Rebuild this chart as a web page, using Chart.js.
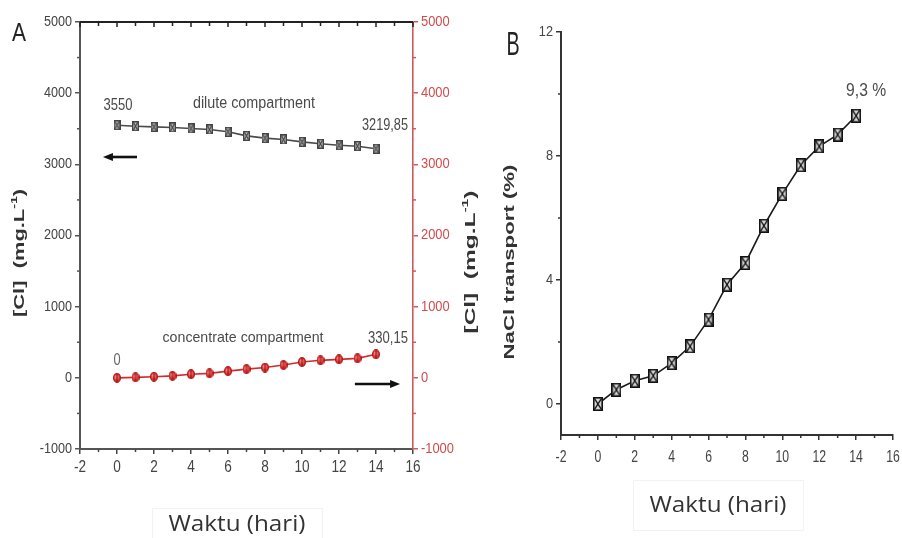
<!DOCTYPE html>
<html><head><meta charset="utf-8">
<script src="https://cdn.jsdelivr.net/npm/chart.js@4.4.1/dist/chart.umd.min.js"></script>
<style>
html,body{margin:0;padding:0;background:#fff;width:902px;height:538px;overflow:hidden}
#wa{position:absolute;left:0;top:0;width:490px;height:538px}
#wb{position:absolute;left:490px;top:0;width:412px;height:538px}
</style></head><body>
<div id="wa"><canvas id="ca"></canvas></div>
<div id="wb"><canvas id="cb"></canvas></div>
<script>
// ---- data ----
const days = [0,1,2,3,4,5,6,7,8,9,10,11,12,13,14];
const diluteCl = [3550,3536,3527,3518,3504,3490,3457,3400,3368,3349,3316,3290,3269,3255,3219.85];
const concentrateCl = [0,7,16,28,51,63,94,122,145,180,222,246,260,274,330.15];
const naclTransport = [0,0.46,0.75,0.91,1.32,1.86,2.72,3.85,4.55,5.75,6.78,7.7,8.31,8.69,9.3];
const xTicks = [-2,0,2,4,6,8,10,12,14,16];
const xMinor = [-1,1,3,5,7,9,11,13,15];
const xTop = [-2,-1,0,1,2,3,4,5,6,7,8,9,10,11,12,13,14,15,16];
const clTicks = [-1000,0,1000,2000,3000,4000,5000];
const clMinor = [-500,500,1500,2500,3500,4500];
const nTicks = [0,4,8,12];
const nMinor = [2,6,10];
const labelDiluteStart = '3550', labelDiluteEnd = '3219,85';
const labelConcStart = '0', labelConcEnd = '330,15';
const labelNaclEnd = '9,3 %';

const SANS = '"Liberation Sans", Arial, sans-serif';
function txt(ctx, s, x, y, o){
  ctx.save();
  ctx.font = (o.bold?'bold ':'') + o.size + 'px ' + (o.family||SANS);
  ctx.fillStyle = o.color||'#4a4a4a';
  ctx.textBaseline = 'middle';
  ctx.textAlign = 'left';
  const w = ctx.measureText(s).width;
  let sx = o.sx||1;
  if (o.width) sx = o.width / w;
  ctx.translate(x,y);
  if (o.rot) ctx.rotate(o.rot);
  ctx.scale(sx,1);
  const ox = o.align==='right' ? -w : (o.align==='left' ? 0 : -w/2);
  ctx.fillText(s, ox, 0);
  ctx.restore();
}
// rotated title with superscript "-1"
function clTitle(ctx, cx, cy, len){
  const parts = [{t:'[Cl]  (mg.L',s:14,dy:0},{t:'-1',s:9,dy:-5},{t:')',s:14,dy:0}];
  ctx.save();
  let w=0;
  parts.forEach(p=>{ctx.font='bold '+p.s+'px '+SANS; p.w=ctx.measureText(p.t).width; w+=p.w;});
  ctx.translate(cx,cy); ctx.rotate(-Math.PI/2); ctx.scale(len/w,1);
  ctx.fillStyle='#333'; ctx.textBaseline='middle';
  let x=-w/2;
  parts.forEach(p=>{ctx.font='bold '+p.s+'px '+SANS; ctx.fillText(p.t,x,p.dy); x+=p.w;});
  ctx.restore();
}
function arrow(ctx, x1, x2, y){
  ctx.save();
  ctx.strokeStyle='#111'; ctx.fillStyle='#111'; ctx.lineWidth=2.6;
  const dir = Math.sign(x2-x1);
  ctx.beginPath(); ctx.moveTo(x1,y); ctx.lineTo(x2-dir*7,y); ctx.stroke();
  ctx.beginPath(); ctx.moveTo(x2,y); ctx.lineTo(x2-dir*10,y-4); ctx.lineTo(x2-dir*10,y+4); ctx.closePath(); ctx.fill();
  ctx.restore();
}
function tick(ctx, x1,y1,x2,y2,color,lw){
  ctx.save(); ctx.strokeStyle=color; ctx.lineWidth=lw||1.5;
  ctx.beginPath(); ctx.moveTo(x1,y1); ctx.lineTo(x2,y2); ctx.stroke(); ctx.restore();
}
function xBox(ctx, x1,y1,x2,y2, label, cx, cy){
  ctx.save(); ctx.strokeStyle='#f2f2f2'; ctx.lineWidth=1;
  ctx.strokeRect(x1+0.5,y1+0.5,x2-x1,y2-y1); ctx.restore();
  txt(ctx,label,cx,cy,{size:21,family:'"Open Sans", sans-serif',width:137,color:'#333'});
}
// ---- point styles ----
function hourglassBox(w,h,stroke,fill,lw){
  const c=document.createElement('canvas'); c.width=w; c.height=h;
  const g=c.getContext('2d');
  g.fillStyle=fill; g.fillRect(0,0,w,h);
  g.strokeStyle=stroke; g.lineWidth=lw;
  g.strokeRect(lw/2,lw/2,w-lw,h-lw);
  g.lineWidth=lw*0.8;
  g.beginPath(); g.moveTo(lw,lw); g.lineTo(w-lw,h-lw); g.moveTo(w-lw,lw); g.lineTo(lw,h-lw); g.stroke();
  return c;
}
function redBall(w,h){
  const c=document.createElement('canvas'); c.width=w; c.height=h;
  const g=c.getContext('2d');
  const gr=g.createRadialGradient(w*0.4,h*0.35,0.5,w/2,h/2,w/2);
  gr.addColorStop(0,'#ff8a8a'); gr.addColorStop(1,'#d01818');
  g.fillStyle=gr;
  g.beginPath(); g.ellipse(w/2,h/2,w/2-0.6,h/2-0.6,0,0,Math.PI*2); g.fill();
  g.strokeStyle='#a81010'; g.lineWidth=1; g.stroke();
  g.strokeStyle='#8a0a0a'; g.lineWidth=1;
  g.beginPath(); g.moveTo(w/2,1.5); g.lineTo(w/2,h-1.5); g.stroke();
  return c;
}
const ptDilute = hourglassBox(7,10,'#444','#c8c8c8',1.4);
const ptConc = redBall(8,10);
const ptNacl = hourglassBox(10,14,'#111','#d8d8d8',1.6);

const tickSet = arr => s => { s.ticks = arr.map(v=>({value:v})); };
const gridOpt = (c)=>({drawOnChartArea:false, drawTicks:true, tickLength:5, color:c, lineWidth:1.5});

// ---- Chart A ----
const decorA = {id:'decorA', afterDraw(chart){
  const ctx=chart.ctx, a=chart.chartArea, sx=chart.scales.x, yl=chart.scales.yL, yr=chart.scales.yR;
  tick(ctx,a.left,a.top,a.right,a.top,'#222',2);
  xTop.forEach(v=>{const p=sx.getPixelForValue(v); tick(ctx,p,a.top,p,a.top+(v%2===0?5:4),'#222',1.5);});
  xMinor.forEach(v=>{const p=sx.getPixelForValue(v); tick(ctx,p,a.bottom,p,a.bottom+3,'#444',1.5);});
  clMinor.forEach(v=>{const p=yl.getPixelForValue(v); tick(ctx,a.left-3,p,a.left,p,'#555',1.5);
                      const q=yr.getPixelForValue(v); tick(ctx,a.right,q,a.right+3,q,'#d05a5a',1.5);});
  clTicks.forEach(v=>{txt(ctx,String(v),a.left-8,yl.getPixelForValue(v),{size:14,sx:0.9,align:'right',color:'#444'});
                      txt(ctx,String(v),a.right+8,yr.getPixelForValue(v),{size:14,sx:0.92,align:'left',color:'#d24b4b'});});
  xTicks.forEach(v=>txt(ctx,String(v),sx.getPixelForValue(v),a.bottom+19,{size:16,sx:0.85,color:'#444'}));
  const d0x=sx.getPixelForValue(days[0]), dNx=sx.getPixelForValue(days[days.length-1]);
  txt(ctx,labelDiluteStart,d0x+1,yl.getPixelForValue(diluteCl[0])-20,{size:17,width:29,color:'#4a4a4a'});
  txt(ctx,labelDiluteEnd,dNx+9,yl.getPixelForValue(diluteCl[diluteCl.length-1])-23,{size:17,width:46,color:'#4a4a4a'});
  txt(ctx,'dilute compartment',sx.getPixelForValue(7.4),yl.getPixelForValue(3860),{size:16,width:122,color:'#4a4a4a'});
  txt(ctx,labelConcStart,d0x,yr.getPixelForValue(concentrateCl[0])-17,{size:16,sx:0.8,color:'#666'});
  txt(ctx,labelConcEnd,dNx+12,yr.getPixelForValue(concentrateCl[concentrateCl.length-1])-16,{size:16,width:40,color:'#4a4a4a'});
  txt(ctx,'concentrate compartment',sx.getPixelForValue(6.81),yr.getPixelForValue(560),{size:15,width:161,color:'#4a4a4a'});
  arrow(ctx,sx.getPixelForValue(1.08),sx.getPixelForValue(-0.76),yl.getPixelForValue(3103));
  arrow(ctx,sx.getPixelForValue(12.86),sx.getPixelForValue(15.3),yr.getPixelForValue(-87));
  clTitle(ctx,20,253,128);
  clTitle(ctx,471,262,143);
  txt(ctx,'A',19,34,{size:25,sx:0.84,color:'#222'});
  xBox(ctx,152,508,322,545,'Waktu (hari)',237,525);
}};

new Chart(document.getElementById('ca'), {
  type:'line',
  data:{datasets:[
    {label:'dilute compartment', data:days.map((d,i)=>({x:d,y:diluteCl[i]})), yAxisID:'yL',
     borderColor:'#4a4a4a', borderWidth:1.6, pointStyle:ptDilute, pointRadius:5, tension:0},
    {label:'concentrate compartment', data:days.map((d,i)=>({x:d,y:concentrateCl[i]})), yAxisID:'yR',
     borderColor:'#d42a2a', borderWidth:1.6, pointStyle:ptConc, pointRadius:5, tension:0}
  ]},
  options:{
    responsive:true, maintainAspectRatio:false, animation:false,
    layout:{padding:{left:0,right:0,top:22,bottom:0}},
    plugins:{legend:{display:false}, tooltip:{enabled:false}},
    scales:{
      x:{type:'linear',position:'bottom',min:-2,max:16,afterBuildTicks:tickSet(xTicks),afterFit:s=>{s.height=89;},
         ticks:{display:false},grid:gridOpt('#444'),border:{display:true,color:'#555',width:2}},
      yL:{type:'linear',position:'left',min:-1000,max:5000,afterBuildTicks:tickSet(clTicks),afterFit:s=>{s.width=80;},
         ticks:{display:false},grid:gridOpt('#555'),border:{display:true,color:'#555',width:2}},
      yR:{type:'linear',position:'right',min:-1000,max:5000,afterBuildTicks:tickSet(clTicks),afterFit:s=>{s.width=77;},
         ticks:{display:false},grid:gridOpt('#d05a5a'),border:{display:true,color:'#d05a5a',width:1.6}}
    }
  },
  plugins:[decorA]
});

// ---- Chart B ----
const OX = 490;
const decorB = {id:'decorB', afterDraw(chart){
  const ctx=chart.ctx, a=chart.chartArea, sx=chart.scales.x, sy=chart.scales.y;
  xMinor.forEach(v=>{const p=sx.getPixelForValue(v); tick(ctx,p,a.bottom,p,a.bottom+3,'#333',1.5);});
  nMinor.forEach(v=>{const p=sy.getPixelForValue(v); tick(ctx,a.left-3,p,a.left,p,'#333',1.5);});
  nTicks.forEach(v=>txt(ctx,String(v),a.left-8,sy.getPixelForValue(v),{size:15,sx:0.85,align:'right',color:'#444'}));
  xTicks.forEach(v=>txt(ctx,String(v),sx.getPixelForValue(v),a.bottom+22,{size:17,sx:0.72,color:'#444'}));
  const n=naclTransport.length-1;
  txt(ctx,labelNaclEnd,sx.getPixelForValue(days[n])+10,sy.getPixelForValue(naclTransport[n])-25,{size:18,width:40,color:'#4a4a4a'});
  txt(ctx,'NaCl transport (%)',510-OX,262,{size:14,bold:true,width:195,rot:-Math.PI/2,color:'#333'});
  txt(ctx,'B',513-OX,46,{size:34,sx:0.58,color:'#222'});
  xBox(ctx,633-OX,480,803-OX,530,'Waktu (hari)',718-OX,506);
}};

new Chart(document.getElementById('cb'), {
  type:'line',
  data:{datasets:[
    {label:'NaCl transport', data:days.map((d,i)=>({x:d,y:naclTransport[i]})),
     borderColor:'#1a1a1a', borderWidth:1.6, pointStyle:ptNacl, pointRadius:6, tension:0}
  ]},
  options:{
    responsive:true, maintainAspectRatio:false, animation:false,
    layout:{padding:{left:0,right:9,top:32,bottom:0}},
    plugins:{legend:{display:false}, tooltip:{enabled:false}},
    scales:{
      x:{type:'linear',position:'bottom',min:-2,max:16,afterBuildTicks:tickSet(xTicks),afterFit:s=>{s.height=103;},
         ticks:{display:false},grid:gridOpt('#333'),border:{display:true,color:'#333',width:2}},
      y:{type:'linear',position:'left',min:-1,max:12,afterBuildTicks:tickSet(nTicks),afterFit:s=>{s.width=71;},
         ticks:{display:false},grid:gridOpt('#333'),border:{display:true,color:'#333',width:2}}
    }
  },
  plugins:[decorB]
});
</script>
</body></html>
